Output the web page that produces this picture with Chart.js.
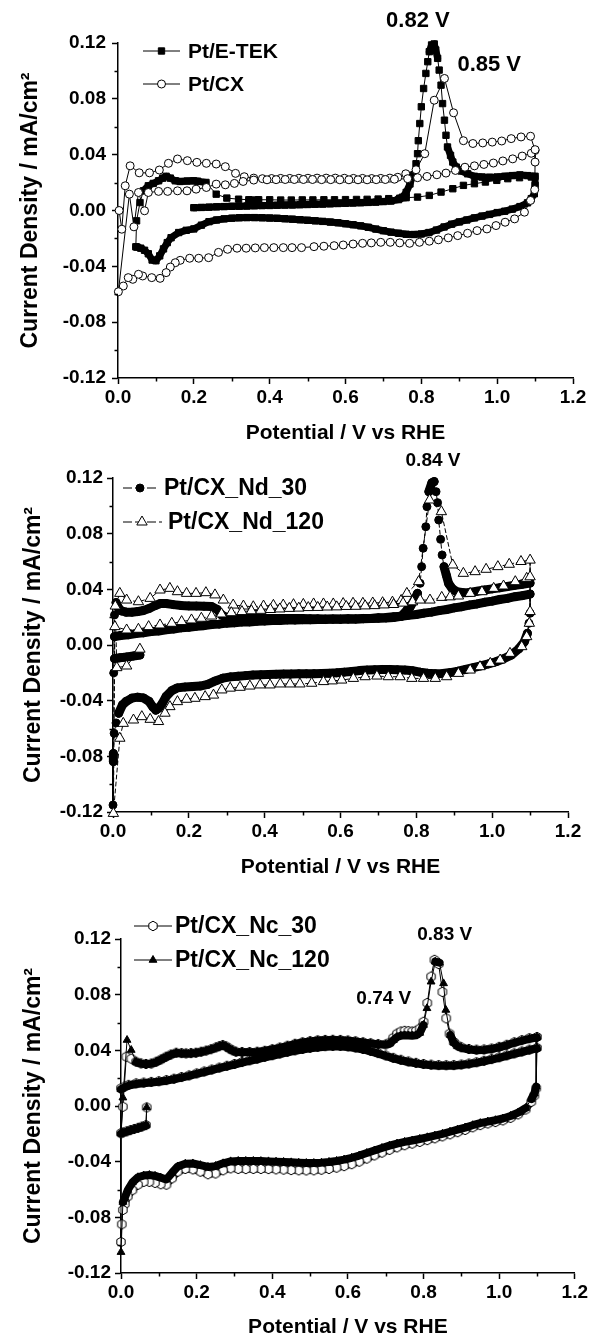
<!DOCTYPE html>
<html>
<head>
<meta charset="utf-8">
<script src="https://cdn.jsdelivr.net/npm/chart.js"></script>
<style>
  html, body { margin: 0; padding: 0; background: #fff; }
  body { width: 592px; height: 1337px; position: relative; overflow: hidden; }
  canvas { position: absolute; left: 0; }
</style>
</head>
<body>
<canvas id="c1" width="592" height="445" style="top:0px"></canvas>
<canvas id="c2" width="592" height="445" style="top:445px"></canvas>
<canvas id="c3" width="592" height="447" style="top:890px"></canvas>
<script>
// axis ticks
const xTicks = [0.0, 0.2, 0.4, 0.6, 0.8, 1.0, 1.2];
const xMinor = [0.1, 0.3, 0.5, 0.7, 0.9, 1.1];
const yTicks = [-0.12, -0.08, -0.04, 0.0, 0.04, 0.08, 0.12];
const yMinor = [-0.10, -0.06, -0.02, 0.02, 0.06, 0.10];

// ---- panel 1: Pt/E-TEK (squares) and Pt/CX (open circles), [V, mA/cm2]
const etekScan1 = [[0.20,0.0020],[0.22,0.0022],[0.24,0.0024],[0.26,0.0026],[0.28,0.0028],[0.30,0.0030],[0.32,0.0031],[0.34,0.0032],[0.36,0.0034],[0.38,0.0035],[0.40,0.0036],[0.42,0.0038],[0.44,0.0039],[0.46,0.0040],[0.48,0.0042],[0.50,0.0043],[0.52,0.0045],[0.54,0.0046],[0.56,0.0048],[0.58,0.0050],[0.60,0.0052],[0.62,0.0054],[0.64,0.0056],[0.66,0.0058],[0.68,0.0060],[0.70,0.0064],[0.72,0.0068],[0.74,0.0078],[0.75,0.0095],[0.76,0.0130],[0.77,0.0190],[0.777,0.0250],[0.786,0.0335],[0.790,0.0407],[0.792,0.0500],[0.796,0.0623],[0.800,0.0743],[0.806,0.0874],[0.812,0.0982],[0.817,0.1066],[0.821,0.1138],[0.827,0.1186],[0.834,0.1193],[0.838,0.1150],[0.843,0.1090],[0.847,0.1006],[0.852,0.0898],[0.856,0.0766],[0.861,0.0647],[0.865,0.0539],[0.869,0.0455],[0.877,0.0395],[0.883,0.0347],[0.892,0.0311],[0.905,0.0283],[0.922,0.0263],[0.940,0.0245],[0.960,0.0240],[0.980,0.0238],[1.000,0.0240],[1.020,0.0245],[1.040,0.0250],[1.060,0.0255],[1.080,0.0250],[1.100,0.0245]];
const etekReverse = [[1.100,0.0180],[1.098,0.0120],[1.090,0.0085],[1.080,0.0055],[1.060,0.0028],[1.040,0.0010],[1.020,-0.0005],[1.000,-0.0015],[0.980,-0.0028],[0.960,-0.0040],[0.940,-0.0053],[0.920,-0.0068],[0.900,-0.0082],[0.880,-0.0098],[0.860,-0.0118],[0.840,-0.0140],[0.820,-0.0158],[0.800,-0.0168],[0.780,-0.0172],[0.760,-0.0170],[0.740,-0.0163],[0.720,-0.0155],[0.700,-0.0145],[0.680,-0.0133],[0.660,-0.0120],[0.640,-0.0110],[0.620,-0.0102],[0.600,-0.0095],[0.580,-0.0088],[0.560,-0.0083],[0.540,-0.0078],[0.520,-0.0074],[0.500,-0.0070],[0.480,-0.0066],[0.460,-0.0062],[0.440,-0.0059],[0.420,-0.0056],[0.400,-0.0054],[0.380,-0.0052],[0.360,-0.0051],[0.340,-0.0051],[0.320,-0.0052],[0.300,-0.0055],[0.280,-0.0060],[0.260,-0.0068],[0.240,-0.0080],[0.220,-0.0105],[0.200,-0.0132],[0.180,-0.0142],[0.160,-0.0158],[0.140,-0.0195],[0.130,-0.0230],[0.120,-0.0275],[0.110,-0.0325],[0.100,-0.0360],[0.090,-0.0355],[0.080,-0.0310],[0.070,-0.0285],[0.060,-0.0270],[0.050,-0.0262]];
const etekScan2 = [[0.047,-0.0260],[0.049,-0.0074],[0.058,0.0057],[0.067,0.0141],[0.080,0.0177],[0.093,0.0194],[0.107,0.0213],[0.118,0.0232],[0.127,0.0245],[0.138,0.0232],[0.151,0.0213],[0.164,0.0208],[0.182,0.0211],[0.199,0.0213],[0.210,0.0210],[0.232,0.0201],[0.259,0.0117],[0.287,0.0089],[0.318,0.0081],[0.345,0.0077],[0.371,0.0077],[0.400,0.0077],[0.429,0.0075],[0.457,0.0075],[0.486,0.0076],[0.514,0.0076],[0.543,0.0077],[0.571,0.0077],[0.600,0.0078],[0.629,0.0079],[0.657,0.0080],[0.686,0.0082],[0.714,0.0085],[0.743,0.0088],[0.760,0.0092],[0.790,0.0096],[0.821,0.0108],[0.852,0.0132],[0.883,0.0156],[0.911,0.0180],[0.940,0.0192],[0.969,0.0204],[0.999,0.0216],[1.028,0.0228],[1.059,0.0235],[1.090,0.0240]];

const cxScan1 = [[0.003,0.0000],[0.010,-0.0134],[0.019,0.0177],[0.032,0.0320],[0.056,0.0270],[0.083,0.0270],[0.109,0.0290],[0.133,0.0338],[0.157,0.0369],[0.183,0.0357],[0.208,0.0345],[0.233,0.0338],[0.259,0.0333],[0.283,0.0314],[0.310,0.0266],[0.333,0.0242],[0.358,0.0232],[0.381,0.0228],[0.405,0.0229],[0.429,0.0230],[0.453,0.0230],[0.477,0.0231],[0.501,0.0231],[0.525,0.0232],[0.549,0.0232],[0.573,0.0232],[0.597,0.0231],[0.621,0.0230],[0.645,0.0230],[0.669,0.0229],[0.693,0.0230],[0.717,0.0232],[0.738,0.0238],[0.759,0.0263],[0.786,0.0292],[0.809,0.0407],[0.834,0.0790],[0.861,0.0946],[0.885,0.0700],[0.911,0.0500],[0.936,0.0480],[0.962,0.0484],[0.987,0.0490],[1.012,0.0498],[1.037,0.0515],[1.063,0.0527],[1.088,0.0532],[1.100,0.0430]];
const cxReverse = [[1.100,0.0347],[1.099,0.0149],[1.088,0.0072],[1.072,-0.0012],[1.046,-0.0060],[1.021,-0.0084],[0.997,-0.0108],[0.973,-0.0132],[0.947,-0.0144],[0.922,-0.0163],[0.896,-0.0180],[0.871,-0.0196],[0.845,-0.0210],[0.821,-0.0220],[0.795,-0.0228],[0.769,-0.0235],[0.743,-0.0232],[0.718,-0.0228],[0.693,-0.0228],[0.668,-0.0232],[0.645,-0.0235],[0.620,-0.0240],[0.594,-0.0247],[0.570,-0.0252],[0.543,-0.0256],[0.517,-0.0259],[0.484,-0.0266],[0.459,-0.0266],[0.436,-0.0266],[0.411,-0.0266],[0.386,-0.0266],[0.362,-0.0268],[0.338,-0.0270],[0.314,-0.0270],[0.289,-0.0278],[0.265,-0.0300],[0.239,-0.0338],[0.213,-0.0342],[0.189,-0.0342],[0.164,-0.0357],[0.151,-0.0374],[0.138,-0.0405],[0.127,-0.0445],[0.111,-0.0486],[0.089,-0.0481],[0.065,-0.0469],[0.054,-0.0457],[0.039,-0.0493],[0.027,-0.0481],[0.014,-0.0541],[0.001,-0.0582]];
const cxScan2 = [[0.030,0.0117],[0.042,-0.0117],[0.054,0.0129],[0.070,-0.0002],[0.080,0.0129],[0.107,0.0137],[0.131,0.0137],[0.157,0.0141],[0.182,0.0141],[0.206,0.0153],[0.233,0.0165],[0.259,0.0189],[0.283,0.0184],[0.307,0.0194],[0.330,0.0208],[0.358,0.0218],[0.393,0.0220],[0.417,0.0221],[0.441,0.0222],[0.465,0.0222],[0.489,0.0222],[0.513,0.0222],[0.537,0.0221],[0.561,0.0221],[0.585,0.0220],[0.609,0.0220],[0.633,0.0220],[0.657,0.0220],[0.681,0.0221],[0.705,0.0222],[0.729,0.0224],[0.764,0.0228],[0.790,0.0235],[0.815,0.0244],[0.841,0.0256],[0.865,0.0268],[0.890,0.0287],[0.915,0.0310],[0.940,0.0320],[0.965,0.0330],[0.990,0.0340],[1.015,0.0355],[1.041,0.0370],[1.066,0.0390],[1.090,0.0410],[1.100,0.0436]];

// ---- panel 2: Pt/CX_Nd_30 (filled circles) and Pt/CX_Nd_120 (open triangles)
const nd30Start = [[0.071,-0.0072],[0.062,-0.0076],[0.054,-0.0079],[0.045,-0.0083],[0.036,-0.0086],[0.027,-0.0089],[0.018,-0.0092],[0.010,-0.0095],[0.004,-0.0098],[0.002,-0.0200]];
const nd30Scan1 = [[0.004,0.0216],[0.008,0.0305],[0.014,0.0270],[0.022,0.0245],[0.035,0.0236],[0.050,0.0236],[0.065,0.0240],[0.080,0.0248],[0.095,0.0262],[0.110,0.0282],[0.125,0.0298],[0.140,0.0298],[0.160,0.0290],[0.180,0.0284],[0.200,0.0281],[0.220,0.0280],[0.240,0.0279],[0.260,0.0276],[0.275,0.0255],[0.287,0.0215],[0.300,0.0196],[0.320,0.0192],[0.340,0.0190],[0.360,0.0190],[0.380,0.0191],[0.400,0.0190],[0.420,0.0190],[0.440,0.0191],[0.460,0.0190],[0.480,0.0190],[0.500,0.0190],[0.520,0.0189],[0.540,0.0188],[0.560,0.0187],[0.580,0.0186],[0.600,0.0186],[0.620,0.0186],[0.640,0.0187],[0.660,0.0188],[0.680,0.0190],[0.700,0.0192],[0.720,0.0194],[0.740,0.0198],[0.760,0.0206],[0.775,0.0250],[0.784,0.0275],[0.797,0.0335],[0.803,0.0371],[0.810,0.0443],[0.814,0.0563],[0.818,0.0695],[0.825,0.0850],[0.828,0.0994],[0.833,0.1102],[0.841,0.1166],[0.847,0.1174],[0.852,0.1102],[0.856,0.1023],[0.859,0.0898],[0.864,0.0759],[0.868,0.0647],[0.873,0.0563],[0.879,0.0503],[0.885,0.0443],[0.894,0.0407],[0.907,0.0383],[0.924,0.0376],[0.940,0.0378],[0.960,0.0386],[0.980,0.0395],[1.000,0.0403],[1.020,0.0411],[1.040,0.0420],[1.060,0.0429],[1.080,0.0437],[1.100,0.0445]];
const nd30Reverse = [[1.100,0.0228],[1.097,0.0156],[1.093,0.0084],[1.085,0.0024],[1.070,-0.0028],[1.050,-0.0073],[1.030,-0.0099],[1.010,-0.0120],[0.990,-0.0136],[0.970,-0.0150],[0.950,-0.0163],[0.930,-0.0176],[0.910,-0.0188],[0.890,-0.0198],[0.870,-0.0204],[0.850,-0.0206],[0.830,-0.0203],[0.810,-0.0195],[0.790,-0.0185],[0.770,-0.0180],[0.750,-0.0178],[0.730,-0.0176],[0.710,-0.0176],[0.690,-0.0178],[0.670,-0.0180],[0.650,-0.0184],[0.630,-0.0190],[0.610,-0.0195],[0.590,-0.0200],[0.570,-0.0203],[0.550,-0.0205],[0.530,-0.0206],[0.510,-0.0207],[0.490,-0.0207],[0.470,-0.0208],[0.450,-0.0209],[0.430,-0.0210],[0.410,-0.0212],[0.390,-0.0214],[0.370,-0.0216],[0.350,-0.0220],[0.330,-0.0224],[0.310,-0.0229],[0.290,-0.0238],[0.270,-0.0258],[0.250,-0.0283],[0.230,-0.0295],[0.210,-0.0299],[0.190,-0.0302],[0.170,-0.0308],[0.155,-0.0328],[0.140,-0.0370],[0.130,-0.0420],[0.120,-0.0455],[0.113,-0.0468],[0.105,-0.0445],[0.095,-0.0405],[0.080,-0.0380],[0.065,-0.0375],[0.050,-0.0382],[0.035,-0.0405],[0.025,-0.0430],[0.015,-0.0490],[0.008,-0.0560],[0.003,-0.0635],[0.001,-0.0780],[0.001,-0.0838],[0.000,-0.1150]];
const nd30Scan2 = [[0.004,0.0060],[0.020,0.0068],[0.040,0.0073],[0.060,0.0082],[0.080,0.0087],[0.100,0.0096],[0.120,0.0101],[0.140,0.0110],[0.160,0.0115],[0.180,0.0123],[0.200,0.0127],[0.220,0.0135],[0.240,0.0139],[0.260,0.0147],[0.280,0.0150],[0.300,0.0157],[0.320,0.0159],[0.340,0.0165],[0.360,0.0166],[0.380,0.0171],[0.400,0.0172],[0.420,0.0176],[0.440,0.0176],[0.460,0.0180],[0.480,0.0179],[0.500,0.0182],[0.520,0.0181],[0.540,0.0184],[0.560,0.0183],[0.580,0.0186],[0.600,0.0185],[0.620,0.0188],[0.640,0.0187],[0.660,0.0191],[0.680,0.0191],[0.700,0.0196],[0.720,0.0197],[0.740,0.0203],[0.760,0.0206],[0.780,0.0214],[0.800,0.0219],[0.820,0.0229],[0.840,0.0236],[0.860,0.0247],[0.880,0.0255],[0.900,0.0267],[0.920,0.0275],[0.940,0.0287],[0.960,0.0295],[0.980,0.0307],[1.000,0.0315],[1.020,0.0327],[1.040,0.0335],[1.060,0.0347],[1.080,0.0355],[1.100,0.0366]];

const nd120Start = [[0.071,-0.0030],[0.036,-0.0151],[0.010,-0.0163]];
const nd120Scan1 = [[0.006,0.0280],[0.018,0.0371],[0.036,0.0323],[0.067,0.0311],[0.098,0.0335],[0.124,0.0395],[0.150,0.0407],[0.170,0.0383],[0.194,0.0371],[0.219,0.0371],[0.245,0.0376],[0.269,0.0360],[0.291,0.0323],[0.317,0.0287],[0.344,0.0280],[0.370,0.0275],[0.397,0.0280],[0.423,0.0285],[0.449,0.0287],[0.476,0.0290],[0.502,0.0292],[0.529,0.0295],[0.555,0.0295],[0.581,0.0295],[0.607,0.0298],[0.633,0.0300],[0.659,0.0300],[0.685,0.0302],[0.711,0.0304],[0.737,0.0308],[0.760,0.0320],[0.775,0.0371],[0.806,0.0455],[0.835,0.1042],[0.866,0.0958],[0.896,0.0575],[0.924,0.0515],[0.955,0.0527],[0.984,0.0544],[1.015,0.0563],[1.045,0.0580],[1.076,0.0600],[1.100,0.0610]];
const nd120Reverse = [[1.100,0.0240],[1.098,0.0156],[1.091,0.0060],[1.078,-0.0012],[1.047,-0.0060],[1.021,-0.0108],[0.995,-0.0132],[0.968,-0.0156],[0.942,-0.0180],[0.911,-0.0204],[0.880,-0.0228],[0.850,-0.0240],[0.819,-0.0240],[0.788,-0.0240],[0.757,-0.0228],[0.726,-0.0228],[0.696,-0.0223],[0.665,-0.0228],[0.634,-0.0240],[0.603,-0.0252],[0.578,-0.0258],[0.555,-0.0263],[0.524,-0.0275],[0.493,-0.0280],[0.467,-0.0280],[0.441,-0.0280],[0.414,-0.0287],[0.388,-0.0287],[0.361,-0.0295],[0.335,-0.0304],[0.309,-0.0310],[0.287,-0.0323],[0.265,-0.0360],[0.243,-0.0371],[0.216,-0.0383],[0.194,-0.0390],[0.170,-0.0407],[0.150,-0.0443],[0.137,-0.0490],[0.120,-0.0550],[0.098,-0.0534],[0.076,-0.0515],[0.054,-0.0539],[0.027,-0.0563],[0.018,-0.0670],[0.001,-0.1210]];
const nd120Scan2 = [[0.005,0.0132],[0.036,0.0108],[0.067,0.0113],[0.094,0.0132],[0.124,0.0144],[0.155,0.0156],[0.181,0.0168],[0.207,0.0180],[0.233,0.0192],[0.260,0.0208],[0.286,0.0223],[0.312,0.0232],[0.340,0.0240],[0.365,0.0246],[0.390,0.0249],[0.415,0.0255],[0.440,0.0259],[0.465,0.0263],[0.490,0.0265],[0.515,0.0269],[0.540,0.0270],[0.565,0.0273],[0.590,0.0274],[0.615,0.0277],[0.640,0.0278],[0.665,0.0281],[0.690,0.0283],[0.715,0.0288],[0.740,0.0291],[0.765,0.0301],[0.790,0.0310],[0.810,0.0323],[0.836,0.0323],[0.867,0.0342],[0.889,0.0346],[0.911,0.0352],[0.942,0.0371],[0.973,0.0383],[1.004,0.0407],[1.030,0.0424],[1.061,0.0455],[1.091,0.0479],[1.100,0.0490]];

// ---- panel 3: Pt/CX_Nc_30 (open hexagons) and Pt/CX_Nc_120 (filled triangles)
const nc30Start = [[0.068,-0.0010],[0.066,-0.0137],[0.055,-0.0148],[0.045,-0.0157],[0.035,-0.0165],[0.025,-0.0173],[0.015,-0.0182],[0.005,-0.0190],[0.000,-0.0196],[0.005,-0.0005]];
const nc30Scan1 = [[0.014,0.0354],[0.027,0.0340],[0.040,0.0318],[0.053,0.0306],[0.066,0.0302],[0.080,0.0305],[0.093,0.0318],[0.106,0.0335],[0.119,0.0354],[0.132,0.0370],[0.146,0.0383],[0.160,0.0380],[0.172,0.0378],[0.185,0.0380],[0.198,0.0383],[0.212,0.0390],[0.225,0.0398],[0.238,0.0408],[0.251,0.0421],[0.260,0.0430],[0.269,0.0438],[0.278,0.0428],[0.286,0.0414],[0.295,0.0400],[0.304,0.0390],[0.320,0.0388],[0.340,0.0388],[0.360,0.0390],[0.380,0.0397],[0.400,0.0408],[0.420,0.0420],[0.440,0.0433],[0.460,0.0447],[0.480,0.0458],[0.500,0.0466],[0.520,0.0472],[0.540,0.0475],[0.560,0.0476],[0.580,0.0475],[0.600,0.0471],[0.620,0.0465],[0.640,0.0458],[0.660,0.0451],[0.680,0.0445],[0.700,0.0442],[0.710,0.0455],[0.720,0.0490],[0.730,0.0520],[0.740,0.0535],[0.750,0.0540],[0.760,0.0538],[0.770,0.0535],[0.780,0.0540],[0.790,0.0556],[0.800,0.0605],[0.810,0.0740],[0.820,0.0930],[0.829,0.1050],[0.840,0.1020],[0.850,0.0820],[0.860,0.0630],[0.869,0.0520],[0.880,0.0460],[0.890,0.0435],[0.900,0.0422],[0.920,0.0410],[0.940,0.0405],[0.960,0.0406],[0.980,0.0413],[1.000,0.0425],[1.020,0.0440],[1.040,0.0458],[1.060,0.0473],[1.080,0.0487],[1.100,0.0496]];
const nc30Reverse = [[1.098,0.0127],[1.093,0.0075],[1.085,0.0030],[1.070,-0.0025],[1.050,-0.0060],[1.030,-0.0085],[1.010,-0.0103],[0.990,-0.0115],[0.970,-0.0125],[0.950,-0.0137],[0.930,-0.0153],[0.910,-0.0172],[0.890,-0.0188],[0.870,-0.0203],[0.850,-0.0218],[0.830,-0.0232],[0.810,-0.0245],[0.790,-0.0258],[0.770,-0.0270],[0.750,-0.0282],[0.730,-0.0297],[0.710,-0.0315],[0.690,-0.0335],[0.670,-0.0355],[0.650,-0.0378],[0.630,-0.0400],[0.610,-0.0418],[0.590,-0.0432],[0.570,-0.0443],[0.550,-0.0452],[0.530,-0.0458],[0.510,-0.0462],[0.490,-0.0463],[0.470,-0.0462],[0.450,-0.0460],[0.430,-0.0457],[0.410,-0.0455],[0.390,-0.0453],[0.370,-0.0452],[0.350,-0.0452],[0.330,-0.0453],[0.310,-0.0452],[0.290,-0.0448],[0.270,-0.0462],[0.250,-0.0485],[0.230,-0.0490],[0.210,-0.0472],[0.190,-0.0455],[0.170,-0.0452],[0.150,-0.0472],[0.135,-0.0520],[0.120,-0.0565],[0.105,-0.0562],[0.090,-0.0552],[0.075,-0.0545],[0.060,-0.0545],[0.045,-0.0565],[0.030,-0.0605],[0.018,-0.0650],[0.010,-0.0705],[0.005,-0.0747],[0.002,-0.0850],[0.000,-0.0977]];
const nc30Scan2 = [[0.000,0.0127],[0.010,0.0140],[0.020,0.0152],[0.040,0.0163],[0.060,0.0168],[0.080,0.0173],[0.100,0.0178],[0.120,0.0186],[0.140,0.0196],[0.160,0.0208],[0.180,0.0220],[0.200,0.0234],[0.220,0.0248],[0.240,0.0262],[0.260,0.0276],[0.280,0.0289],[0.300,0.0302],[0.320,0.0316],[0.340,0.0328],[0.360,0.0340],[0.380,0.0353],[0.400,0.0365],[0.420,0.0377],[0.440,0.0389],[0.460,0.0400],[0.480,0.0410],[0.500,0.0418],[0.520,0.0425],[0.540,0.0430],[0.560,0.0432],[0.580,0.0432],[0.600,0.0428],[0.620,0.0420],[0.640,0.0410],[0.660,0.0396],[0.680,0.0380],[0.700,0.0363],[0.720,0.0346],[0.740,0.0332],[0.760,0.0320],[0.780,0.0310],[0.800,0.0302],[0.820,0.0297],[0.840,0.0294],[0.860,0.0293],[0.880,0.0294],[0.900,0.0298],[0.920,0.0305],[0.940,0.0314],[0.960,0.0325],[0.980,0.0337],[1.000,0.0350],[1.020,0.0364],[1.040,0.0378],[1.060,0.0392],[1.080,0.0405],[1.100,0.0418]];

const nc120Start = [[0.068,-0.0010],[0.066,-0.0140],[0.055,-0.0150],[0.045,-0.0159],[0.035,-0.0167],[0.025,-0.0175],[0.015,-0.0184],[0.005,-0.0192],[0.000,-0.0198],[0.005,0.0060]];
const nc120Scan1 = [[0.016,0.0474],[0.027,0.0402],[0.040,0.0316],[0.053,0.0303],[0.066,0.0300],[0.080,0.0303],[0.093,0.0315],[0.106,0.0333],[0.119,0.0351],[0.132,0.0368],[0.146,0.0381],[0.160,0.0378],[0.172,0.0376],[0.185,0.0378],[0.198,0.0381],[0.212,0.0388],[0.225,0.0396],[0.238,0.0406],[0.251,0.0419],[0.260,0.0428],[0.269,0.0436],[0.278,0.0426],[0.286,0.0411],[0.295,0.0398],[0.304,0.0388],[0.320,0.0386],[0.340,0.0386],[0.360,0.0388],[0.380,0.0395],[0.400,0.0406],[0.420,0.0418],[0.440,0.0431],[0.460,0.0445],[0.480,0.0456],[0.500,0.0464],[0.520,0.0470],[0.540,0.0473],[0.560,0.0474],[0.580,0.0473],[0.600,0.0469],[0.620,0.0463],[0.640,0.0456],[0.660,0.0449],[0.680,0.0443],[0.700,0.0440],[0.710,0.0448],[0.720,0.0472],[0.730,0.0495],[0.740,0.0505],[0.750,0.0508],[0.760,0.0507],[0.770,0.0505],[0.780,0.0508],[0.790,0.0525],[0.800,0.0582],[0.809,0.0702],[0.820,0.0893],[0.831,0.1037],[0.842,0.1030],[0.853,0.0881],[0.859,0.0690],[0.871,0.0510],[0.880,0.0455],[0.890,0.0430],[0.900,0.0418],[0.920,0.0406],[0.940,0.0401],[0.960,0.0402],[0.980,0.0409],[1.000,0.0421],[1.020,0.0436],[1.040,0.0454],[1.060,0.0469],[1.080,0.0483],[1.100,0.0492]];
const nc120Reverse = [[1.098,0.0140],[1.093,0.0090],[1.085,0.0050],[1.070,-0.0015],[1.050,-0.0048],[1.030,-0.0072],[1.010,-0.0090],[0.990,-0.0102],[0.970,-0.0112],[0.950,-0.0123],[0.930,-0.0138],[0.910,-0.0155],[0.890,-0.0170],[0.870,-0.0185],[0.850,-0.0200],[0.830,-0.0213],[0.810,-0.0225],[0.790,-0.0237],[0.770,-0.0248],[0.750,-0.0258],[0.730,-0.0270],[0.710,-0.0285],[0.690,-0.0302],[0.670,-0.0320],[0.650,-0.0338],[0.630,-0.0356],[0.610,-0.0372],[0.590,-0.0385],[0.570,-0.0395],[0.550,-0.0402],[0.530,-0.0407],[0.510,-0.0410],[0.490,-0.0410],[0.470,-0.0408],[0.450,-0.0405],[0.430,-0.0402],[0.410,-0.0400],[0.390,-0.0398],[0.370,-0.0396],[0.350,-0.0395],[0.330,-0.0395],[0.310,-0.0395],[0.290,-0.0398],[0.270,-0.0412],[0.250,-0.0432],[0.230,-0.0438],[0.210,-0.0425],[0.190,-0.0413],[0.170,-0.0415],[0.150,-0.0435],[0.135,-0.0480],[0.120,-0.0528],[0.105,-0.0515],[0.090,-0.0502],[0.075,-0.0496],[0.060,-0.0500],[0.045,-0.0512],[0.030,-0.0550],[0.018,-0.0604],[0.010,-0.0660],[0.005,-0.0690],[0.000,-0.1050]];
const nc120Scan2 = [[0.000,0.0120],[0.010,0.0135],[0.020,0.0147],[0.040,0.0158],[0.060,0.0164],[0.080,0.0169],[0.100,0.0174],[0.120,0.0182],[0.140,0.0192],[0.160,0.0204],[0.180,0.0216],[0.200,0.0230],[0.220,0.0244],[0.240,0.0258],[0.260,0.0272],[0.280,0.0285],[0.300,0.0298],[0.320,0.0312],[0.340,0.0324],[0.360,0.0336],[0.380,0.0349],[0.400,0.0361],[0.420,0.0373],[0.440,0.0385],[0.460,0.0396],[0.480,0.0406],[0.500,0.0414],[0.520,0.0421],[0.540,0.0426],[0.560,0.0428],[0.580,0.0428],[0.600,0.0424],[0.620,0.0416],[0.640,0.0406],[0.660,0.0392],[0.680,0.0376],[0.700,0.0359],[0.720,0.0342],[0.740,0.0328],[0.760,0.0316],[0.780,0.0306],[0.800,0.0298],[0.820,0.0293],[0.840,0.0290],[0.860,0.0289],[0.880,0.0290],[0.900,0.0294],[0.920,0.0301],[0.940,0.0310],[0.960,0.0321],[0.980,0.0333],[1.000,0.0346],[1.020,0.0360],[1.040,0.0374],[1.060,0.0388],[1.080,0.0401],[1.100,0.0414]];

const FONT = 'Liberation Sans, Arial, sans-serif';
Chart.defaults.font.family = FONT;
Chart.defaults.color = '#000';

function hexMarker(r) {
    const cv = document.createElement('canvas');
    const s = Math.ceil(2 * r + 2);
    cv.width = s; cv.height = s;
    const g = cv.getContext('2d');
    g.beginPath();
    for (let k = 0; k < 6; k++) {
        const a = Math.PI / 2 + k * Math.PI / 3;
        const px = s / 2 + r * Math.cos(a), py = s / 2 + r * Math.sin(a);
        if (k) g.lineTo(px, py); else g.moveTo(px, py);
    }
    g.closePath();
    g.fillStyle = '#fff'; g.fill();
    g.lineWidth = 1; g.strokeStyle = '#000'; g.stroke();
    return cv;
}
const hex = hexMarker(4.8);

// markers that sit close together are drawn as a solid band, like the overlapping symbols in the plot
function close(c) {
    return Math.hypot(c.p1.x - c.p0.x, c.p1.y - c.p0.y) < 10;
}

function series(label, parts, o) {
    return {
        label: label,
        data: parts.flat().map(p => ({ x: p[0], y: p[1] })),
        showLine: true,
        borderColor: '#000',
        borderWidth: 1,
        tension: 0,
        borderJoinStyle: 'round',
        borderCapStyle: 'round',
        pointStyle: o.style,
        pointRadius: o.radius,
        pointHoverRadius: o.radius,
        pointBackgroundColor: o.fill,
        pointBorderColor: '#000',
        pointBorderWidth: 1,
        clip: false,
        order: o.order,
        segment: {
            borderWidth: c => close(c) ? o.band : 1,
            borderDash: c => close(c) ? [] : o.dash
        },
        marker: o
    };
}

function decor(p) {
    return {
        id: 'decor' + p.id,
        afterDraw(chart) {
            const c = chart.ctx, xs = chart.scales.x, ys = chart.scales.y;
            const area = chart.chartArea;
            c.save();
            // minor ticks
            c.strokeStyle = '#000';
            c.lineWidth = 1.5;
            xMinor.forEach(v => {
                const px = Math.round(xs.getPixelForValue(v)) + 0.5;
                c.beginPath(); c.moveTo(px, area.bottom); c.lineTo(px, area.bottom + 3.5); c.stroke();
            });
            yMinor.forEach(v => {
                const py = Math.round(ys.getPixelForValue(v)) + 0.5;
                c.beginPath(); c.moveTo(area.left, py); c.lineTo(area.left - 3.5, py); c.stroke();
            });
            // legend
            p.legend.forEach(it => {
                const ds = chart.data.datasets[it.ds];
                const m = ds.marker;
                c.lineWidth = 1;
                c.setLineDash(it.dash || []);
                c.beginPath(); c.moveTo(it.x0, it.y); c.lineTo(it.x1, it.y); c.stroke();
                c.setLineDash([]);
                c.fillStyle = m.fill; c.strokeStyle = '#000'; c.lineWidth = 1;
                Chart.helpers.drawPoint(c, { pointStyle: m.style, radius: m.radius, rotation: 0, borderWidth: 1 }, it.xm, it.y);
                c.fillStyle = '#000';
                c.font = 'bold ' + p.legendSize + 'px ' + FONT;
                c.textAlign = 'left'; c.textBaseline = 'middle';
                c.fillText(ds.label, it.xt, it.y + 1);
            });
            // peak notes
            c.font = 'bold ' + p.noteSize + 'px ' + FONT;
            c.textAlign = 'center'; c.textBaseline = 'middle';
            p.notes.forEach(n => {
                c.fillText(n.text, xs.getPixelForValue(n.v), ys.getPixelForValue(n.i));
            });
            c.restore();
        }
    };
}

function makePanel(id, p) {
    const L = p.layout;
    new Chart(document.getElementById(id), {
        type: 'scatter',
        data: { datasets: p.datasets },
        options: {
            responsive: false,
            animation: false,
            events: [],
            layout: { padding: { top: L.padTop, right: L.padRight, bottom: 0, left: 0 } },
            plugins: { legend: { display: false }, tooltip: { enabled: false } },
            scales: {
                x: {
                    type: 'linear', min: 0, max: 1.2,
                    afterBuildTicks: s => { s.ticks = xTicks.map(v => ({ value: v })); },
                    afterFit: s => { s.height = L.xHeight; },
                    ticks: {
                        callback: v => v.toFixed(1), autoSkip: false, maxRotation: 0,
                        padding: L.xTickPad, color: '#000',
                        font: { size: 19, weight: 'bold', lineHeight: 1 }
                    },
                    grid: { drawOnChartArea: false, tickLength: 6, tickColor: '#000', tickWidth: 1.5 },
                    border: { color: '#000', width: 1.5 },
                    title: {
                        display: true, text: 'Potential / V vs RHE', color: '#000',
                        font: { size: 21, weight: 'bold', lineHeight: 1 },
                        padding: { top: 0, bottom: L.xTitlePad }
                    }
                },
                y: {
                    type: 'linear', min: -0.12, max: 0.12,
                    afterBuildTicks: s => { s.ticks = yTicks.map(v => ({ value: v })); },
                    afterFit: s => { s.width = L.yWidth; },
                    ticks: {
                        callback: v => (Math.abs(v) < 1e-9 ? 0 : v).toFixed(2), autoSkip: false,
                        padding: L.yTickPad, color: '#000',
                        font: { size: 19, weight: 'bold', lineHeight: 1 }
                    },
                    grid: { drawOnChartArea: false, tickLength: 6, tickColor: '#000', tickWidth: 1.5 },
                    border: { color: '#000', width: 1.5 },
                    title: {
                        display: true, text: 'Current Density / mA/cm\u00B2', color: '#000',
                        font: { size: 23, weight: 'bold', lineHeight: 1 },
                        padding: { top: L.yTitlePad, bottom: 0 }
                    }
                }
            }
        },
        plugins: [decor(p)]
    });
}

makePanel('c1', {
    id: 1,
    layout: { padTop: 43, padRight: 19, xHeight: 67, yWidth: 118, xTickPad: 4, yTickPad: 6, xTitlePad: 1.5, yTitlePad: 19.5 },
    datasets: [
        series('Pt/E-TEK', [etekScan1, etekReverse, etekScan2], { style: 'rect', radius: 4.5, fill: '#000', band: 7, dash: [], order: 1 }),
        series('Pt/CX', [cxScan1, cxReverse, cxScan2], { style: 'circle', radius: 4, fill: '#fff', band: 1, dash: [], order: 0 })
    ],
    legendSize: 21,
    legend: [
        { ds: 0, y: 51, x0: 143, x1: 180, xm: 161.5, xt: 188 },
        { ds: 1, y: 84, x0: 143, x1: 180, xm: 161.5, xt: 188 }
    ],
    noteSize: 22,
    notes: [{ text: '0.82 V', v: 0.791, i: 0.1358 }, { text: '0.85 V', v: 0.979, i: 0.1042 }]
});

makePanel('c2', {
    id: 2,
    layout: { padTop: 33, padRight: 24, xHeight: 78, yWidth: 113, xTickPad: 4, yTickPad: 4, xTitlePad: 12.5, yTitlePad: 22.5 },
    datasets: [
        series('Pt/CX_Nd_30', [nd30Start, nd30Scan1, nd30Reverse, nd30Scan2], { style: 'circle', radius: 4, fill: '#000', band: 9, dash: [4, 3], order: 1 }),
        series('Pt/CX_Nd_120', [nd120Start, nd120Scan1, nd120Reverse, nd120Scan2], { style: 'triangle', radius: 6, fill: '#fff', band: 1, dash: [4, 3], order: 0 })
    ],
    legendSize: 23,
    legend: [
        { ds: 0, y: 43, x0: 123, x1: 158, xm: 140, xt: 164, dash: [9, 3] },
        { ds: 1, y: 77, x0: 123, x1: 162, xm: 142, xt: 168, dash: [9, 3] }
    ],
    noteSize: 19,
    notes: [{ text: '0.84 V', v: 0.844, i: 0.1322 }]
});

makePanel('c3', {
    id: 3,
    layout: { padTop: 49, padRight: 16, xHeight: 64, yWidth: 121, xTickPad: 4, yTickPad: 4, xTitlePad: -1, yTitlePad: 22.5 },
    datasets: [
        series('Pt/CX_Nc_30', [nc30Start, nc30Scan1, nc30Reverse, nc30Scan2], { style: hex, radius: 4.8, fill: '#fff', band: 7, dash: [], order: 1 }),
        series('Pt/CX_Nc_120', [nc120Start, nc120Scan1, nc120Reverse, nc120Scan2], { style: 'triangle', radius: 4.5, fill: '#000', band: 8, dash: [], order: 0 })
    ],
    legendSize: 23,
    legend: [
        { ds: 0, y: 36, x0: 134, x1: 172, xm: 153, xt: 175 },
        { ds: 1, y: 70, x0: 134, x1: 172, xm: 153, xt: 175 }
    ],
    noteSize: 19,
    notes: [{ text: '0.83 V', v: 0.856, i: 0.1229 }, { text: '0.74 V', v: 0.695, i: 0.0769 }]
});
</script>
</body>
</html>
